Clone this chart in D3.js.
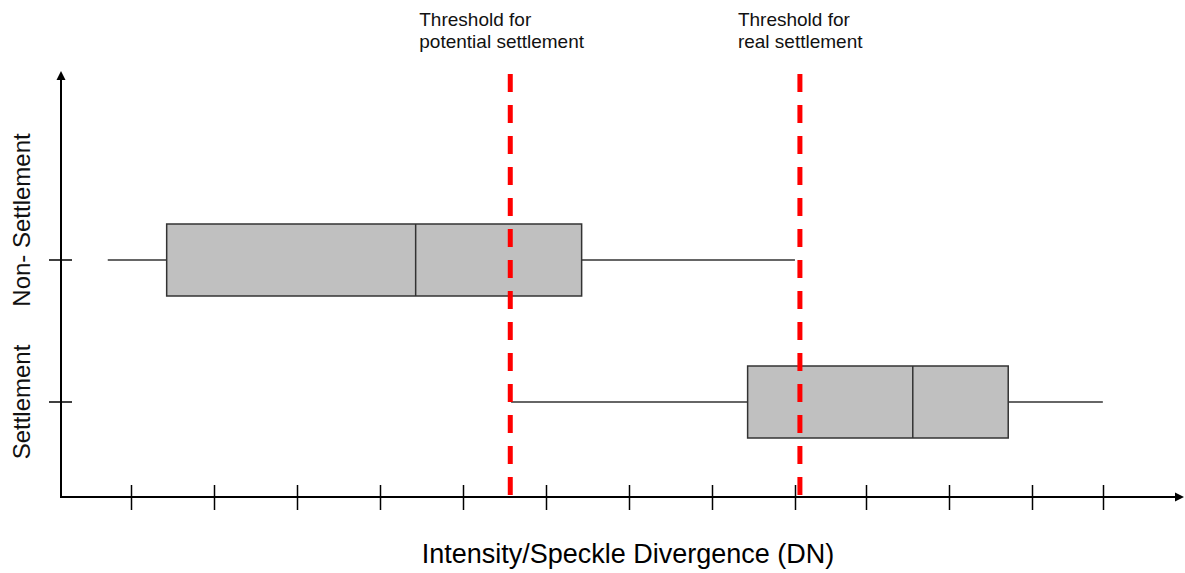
<!DOCTYPE html>
<html>
<head>
<meta charset="utf-8">
<script src="https://cdn.jsdelivr.net/npm/d3@7/dist/d3.min.js"></script>
<style>
  html, body { margin: 0; padding: 0; background: #fff; }
  svg { display: block; font-family: "Liberation Sans", Arial, sans-serif; }
</style>
</head>
<body>
<svg id="chart" width="1185" height="573"></svg>
<script>
// ---- data ----
const categories = ["Settlement", "Non- Settlement"];
const whiskerLow  = [5.58, 0.72];
const q1          = [8.43, 1.43];
const median      = [10.42, 4.43];
const q3          = [11.57, 6.43];
const whiskerHigh = [12.71, 9.0];
const tickValues  = [1, 2, 3, 4, 5, 6, 7, 8, 9, 9.86, 10.86, 11.86, 12.71];
const thresholds  = [5.57, 9.06];
const thresholdLabels = [
  ["Threshold for", "potential settlement"],
  ["Threshold for", "real settlement"]
];
const xTitle = "Intensity/Speckle Divergence (DN)";

// ---- layout ----
const W = 1185, H = 573;
const originX = 61, originY = 497, topY = 71;
const svg = d3.select("#chart");

const x = d3.scaleLinear().domain([0, 13.7]).range([48, 1185]);
const y = d3.scalePoint().domain(categories).range([402, 260]);
const boxHalf = 36;

const boxes = categories.map((c, i) => ({
  cat: c, lo: whiskerLow[i], q1: q1[i], med: median[i], q3: q3[i], hi: whiskerHigh[i]
}));

// ---- axes ----
const axisG = svg.append("g");
// x axis ticks
axisG.selectAll("line.xt").data(tickValues).join("line")
  .attr("class", "xt")
  .attr("x1", d => Math.round(x(d)) + 0.5).attr("x2", d => Math.round(x(d)) + 0.5)
  .attr("y1", originY - 12).attr("y2", originY + 13)
  .attr("stroke", "#000").attr("stroke-width", 1.5);
// y axis ticks
axisG.selectAll("line.yt").data(categories).join("line")
  .attr("class", "yt")
  .attr("x1", originX - 12).attr("x2", originX + 11)
  .attr("y1", d => y(d)).attr("y2", d => y(d))
  .attr("stroke", "#000").attr("stroke-width", 1.5);
// axis lines
axisG.append("path")
  .attr("d", `M${originX},${topY + 6}V${originY}H${W - 6}`)
  .attr("fill", "none").attr("stroke", "#000").attr("stroke-width", 2);
// arrowheads
axisG.append("path")
  .attr("d", `M${originX},${topY} l-4.5,9 h9 Z`).attr("fill", "#000");
axisG.append("path")
  .attr("d", `M${W - 1},${originY} l-9,-4.5 v9 Z`).attr("fill", "#000");

// ---- boxplots ----
const bg = svg.append("g").selectAll("g").data(boxes).join("g");
bg.append("line")
  .attr("x1", d => x(d.lo)).attr("x2", d => x(d.q1))
  .attr("y1", d => y(d.cat)).attr("y2", d => y(d.cat))
  .attr("stroke", "#333").attr("stroke-width", 1.5);
bg.append("line")
  .attr("x1", d => x(d.q3)).attr("x2", d => x(d.hi))
  .attr("y1", d => y(d.cat)).attr("y2", d => y(d.cat))
  .attr("stroke", "#333").attr("stroke-width", 1.5);
bg.append("rect")
  .attr("x", d => x(d.q1)).attr("width", d => x(d.q3) - x(d.q1))
  .attr("y", d => y(d.cat) - boxHalf).attr("height", boxHalf * 2)
  .attr("fill", "#c0c0c0").attr("stroke", "#333").attr("stroke-width", 1.5);
bg.append("line")
  .attr("x1", d => x(d.med)).attr("x2", d => x(d.med))
  .attr("y1", d => y(d.cat) - boxHalf).attr("y2", d => y(d.cat) + boxHalf)
  .attr("stroke", "#333").attr("stroke-width", 1.5);

// ---- threshold lines ----
svg.append("g").selectAll("line").data(thresholds).join("line")
  .attr("x1", d => x(d)).attr("x2", d => x(d))
  .attr("y1", 74).attr("y2", originY)
  .attr("stroke", "#ff0000").attr("stroke-width", 5)
  .attr("stroke-dasharray", "18,13");

// ---- threshold labels ----
const labelOffsets = [-91, -62];
const tl = svg.append("g").selectAll("text").data(thresholdLabels).join("text")
  .attr("x", (d, i) => x(thresholds[i]) + labelOffsets[i])
  .attr("y", 26)
  .attr("font-size", 19).attr("fill", "#111");
tl.selectAll("tspan").data(d => d).join("tspan")
  .attr("x", function () { return d3.select(this.parentNode).attr("x"); })
  .attr("dy", (d, j) => j === 0 ? 0 : 22)
  .text(d => d);

// ---- category labels ----
const labelShift = { "Settlement": 0, "Non- Settlement": -40 };
svg.append("g").selectAll("text").data(categories).join("text")
  .attr("transform", d => `translate(30,${y(d) + labelShift[d]}) rotate(-90)`)
  .attr("text-anchor", "middle")
  .attr("font-size", 24).attr("fill", "#111")
  .text(d => d);

// ---- x title ----
svg.append("text")
  .attr("x", 628).attr("y", 563)
  .attr("text-anchor", "middle")
  .attr("font-size", 27).attr("fill", "#000")
  .text(xTitle);
</script>
</body>
</html>
